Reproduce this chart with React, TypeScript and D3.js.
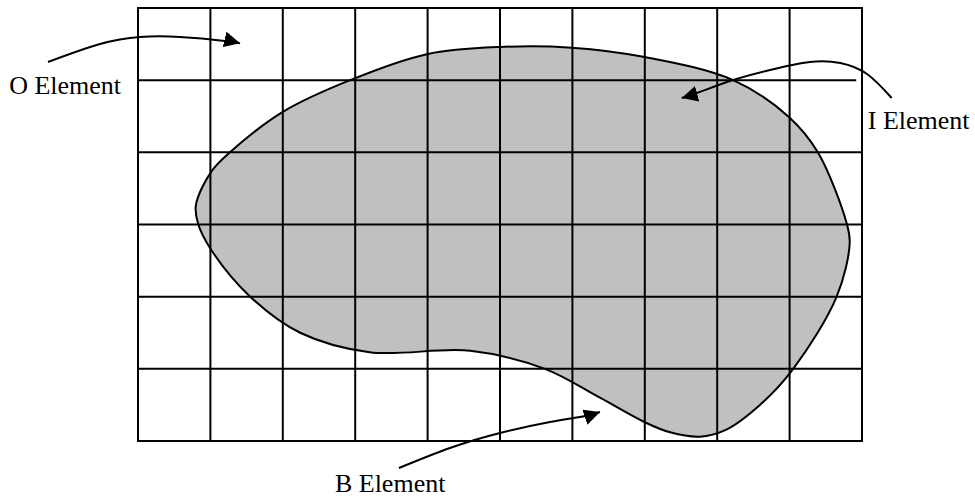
import React, { useEffect, useRef } from 'react';
import * as d3 from 'd3';

// grid size in cells
const columns = 10;
const rows = 6;

// region outline, in grid units (x = column, y = row)
const blobX = [0.8, 1.01, 1.27, 2.0, 2.93, 3.99, 5.0, 5.99, 7.0, 8.22, 8.99, 9.39, 9.79, 9.83, 9.65, 9.05, 8.59, 8.11, 7.76, 7.35, 7.0, 6.38, 5.62, 4.59, 3.2, 2.24, 1.55, 1.01, 0.83];
const blobY = [2.73, 2.27, 2.0, 1.44, 1.0, 0.64, 0.54, 0.55, 0.68, 1.0, 1.51, 2.0, 2.99, 3.26, 4.0, 5.0, 5.5, 5.85, 5.94, 5.88, 5.74, 5.4, 5.0, 4.75, 4.77, 4.5, 4.0, 3.35, 2.99];

// annotation arrows, in grid units, ending at the tip
const arrowOX = [-1.243, -0.525, 0.028, 0.58, 1.2, 1.41];
const arrowOY = [0.748, 0.499, 0.402, 0.402, 0.457, 0.49];
const arrowIX = [10.41, 10.07, 9.7, 9.28, 8.73, 8.22, 7.72, 7.51];
const arrowIY = [1.247, 0.915, 0.762, 0.748, 0.859, 0.998, 1.178, 1.247];
const arrowBX = [3.605, 4.309, 5.0, 5.691, 6.174, 6.381];
const arrowBY = [6.374, 6.097, 5.889, 5.737, 5.653, 5.598];

const labels = ['O Element', 'I Element', 'B Element'];
const labelX = [-1.78, 10.08, 2.72];
const labelY = [1.19, 1.677, 6.706];

const GridRegion = () => {
  const svgRef = useRef(null);

  useEffect(() => {
    if (!svgRef.current) return;
    const svg = d3.select(svgRef.current);
    svg.selectAll('*').remove();

    const x = d3.scaleLinear().domain([0, columns]).range([138, 862]);
    const y = d3.scaleLinear().domain([0, rows]).range([8, 441]);

    const pts = (xs, ys) => xs.map((v, i) => [x(v), y(ys[i])]);

    svg.append('defs').append('marker')
      .attr('id', 'head')
      .attr('viewBox', '0 0 16 16')
      .attr('refX', 16)
      .attr('refY', 8)
      .attr('markerWidth', 16)
      .attr('markerHeight', 16)
      .attr('markerUnits', 'userSpaceOnUse')
      .attr('orient', 'auto')
      .append('path')
      .attr('d', 'M0,0 L16,8 L0,16 Z')
      .attr('fill', '#000');

    const blobLine = d3.line().curve(d3.curveCatmullRomClosed.alpha(0.5));
    const blob = pts(blobX, blobY);

    svg.append('path')
      .attr('d', blobLine(blob))
      .attr('fill', '#c0c0c0');

    // grid
    const grid = svg.append('g').attr('stroke', '#000').attr('stroke-width', 2);
    d3.range(1, columns).forEach(c => {
      grid.append('line')
        .attr('x1', x(c)).attr('x2', x(c))
        .attr('y1', y(0)).attr('y2', y(rows));
    });
    d3.range(1, rows).forEach(r => {
      grid.append('line')
        .attr('x1', x(0)).attr('x2', r === 1 ? x(9.92) : x(columns))
        .attr('y1', y(r)).attr('y2', y(r));
    });
    grid.append('rect')
      .attr('x', x(0)).attr('y', y(0))
      .attr('width', x(columns) - x(0))
      .attr('height', y(rows) - y(0))
      .attr('fill', 'none');

    svg.append('path')
      .attr('d', blobLine(blob))
      .attr('fill', 'none')
      .attr('stroke', '#000')
      .attr('stroke-width', 2);

    // arrows
    const arrowLine = d3.line().curve(d3.curveNatural);
    [[arrowOX, arrowOY], [arrowIX, arrowIY], [arrowBX, arrowBY]].forEach(([xs, ys]) => {
      svg.append('path')
        .attr('d', arrowLine(pts(xs, ys)))
        .attr('fill', 'none')
        .attr('stroke', '#000')
        .attr('stroke-width', 2)
        .attr('marker-end', 'url(#head)');
    });

    labels.forEach((t, i) => {
      svg.append('text')
        .attr('x', x(labelX[i]))
        .attr('y', y(labelY[i]))
        .attr('font-family', '"Liberation Serif", "Times New Roman", serif')
        .attr('font-size', 26)
        .attr('fill', '#000')
        .text(t);
    });
  }, []);

  return (
    <svg
      ref={svgRef}
      width={975}
      height={498}
      style={{ position: 'absolute', left: 0, top: 0, background: '#fff' }}
    />
  );
};

export default function App() {
  return <GridRegion />;
}
